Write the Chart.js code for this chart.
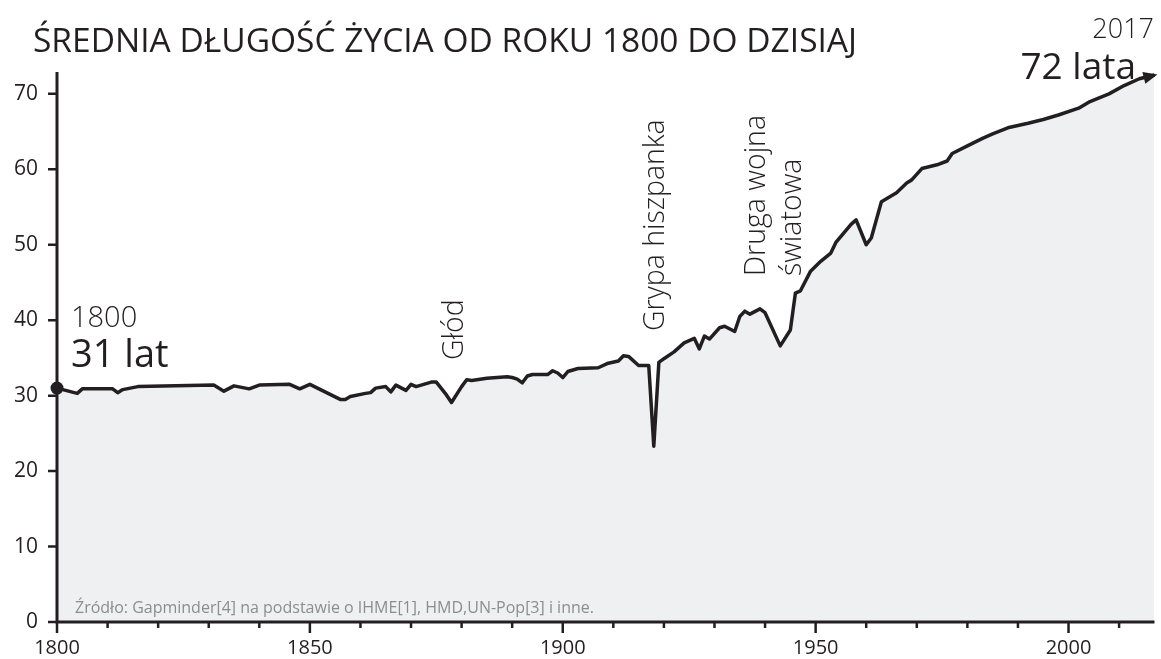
<!DOCTYPE html>
<html lang="pl">
<head>
<meta charset="utf-8">
<title>Średnia długość życia od roku 1800 do dzisiaj</title>
<script src="https://cdn.jsdelivr.net/npm/chart.js@4/dist/chart.umd.min.js"></script>
<style>
  html, body { margin: 0; padding: 0; background: #ffffff; }
  #wrap { width: 1161px; height: 659px; }
</style>
</head>
<body>
<div id="wrap"><canvas id="chartZycie" width="1161" height="659"></canvas></div>
<script>
// Dane (lata i długość życia w latach)
const lata = [
    1800, 1804, 1805, 1811, 1812, 1813, 1816, 1831, 1833, 1835, 1838, 1840,
    1846, 1848, 1850, 1853, 1856, 1857, 1858, 1861, 1862, 1863, 1865, 1866,
    1867, 1869, 1870, 1871, 1874, 1875, 1877, 1878, 1880, 1881, 1882, 1885,
    1889, 1890, 1891, 1892, 1893, 1894, 1897, 1898, 1899, 1900, 1901, 1903,
    1907, 1909, 1911, 1912, 1913, 1915, 1917, 1918, 1919, 1920, 1922, 1924,
    1926, 1927, 1928, 1929, 1931, 1932, 1934, 1935, 1936, 1937, 1939, 1940,
    1943, 1945, 1946, 1947, 1949, 1951, 1953, 1954, 1957, 1958, 1960, 1961,
    1963, 1966, 1968, 1969, 1971, 1974, 1976, 1977, 1980, 1983, 1985, 1988,
    1992, 1995, 1998, 2002, 2004, 2008, 2011, 2014, 2017
];
const dlugoscZycia = [
    31.0, 30.3, 30.9, 30.9, 30.4, 30.8, 31.2, 31.4, 30.6, 31.3, 30.9, 31.4,
    31.5, 30.9, 31.5, 30.5, 29.5, 29.5, 29.9, 30.3, 30.4, 31.0, 31.2, 30.5,
    31.4, 30.7, 31.5, 31.2, 31.8, 31.8, 30.1, 29.1, 31.2, 32.1, 32.0, 32.3,
    32.5, 32.4, 32.2, 31.7, 32.6, 32.8, 32.8, 33.3, 33.0, 32.4, 33.2, 33.6,
    33.7, 34.3, 34.6, 35.3, 35.2, 34.0, 34.0, 23.3, 34.4, 34.9, 35.8, 37.0,
    37.6, 36.2, 37.9, 37.5, 39.0, 39.2, 38.5, 40.5, 41.2, 40.8, 41.5, 41.0,
    36.6, 38.7, 43.6, 43.9, 46.5, 47.8, 48.9, 50.3, 52.7, 53.3, 50.0, 50.9,
    55.7, 56.9, 58.2, 58.6, 60.1, 60.6, 61.1, 62.1, 63.1, 64.1, 64.7, 65.5,
    66.1, 66.6, 67.2, 68.1, 68.9, 70.0, 71.1, 72.0, 72.5
];
const etykietyX = [1800, 1850, 1900, 1950, 2000];
const wartosciY = [0, 10, 20, 30, 40, 50, 60, 70];

const KOLOR = '#231f20';
const FONT = '"Open Sans", "Noto Sans", sans-serif';

// Osie, kreski podziałki, strzałka i napisy
const opisyPlugin = {
    id: 'opisy',
    afterDatasetsDraw(chart) {
        const { ctx, chartArea, scales: { x, y } } = chart;
        ctx.save();
        ctx.strokeStyle = KOLOR;
        ctx.fillStyle = KOLOR;

        // oś Y i oś X
        ctx.lineWidth = 3;
        ctx.beginPath();
        ctx.moveTo(chartArea.left, chartArea.top - 3);
        ctx.lineTo(chartArea.left, chartArea.bottom + 1.5);
        ctx.moveTo(chartArea.left - 1.5, chartArea.bottom);
        ctx.lineTo(chartArea.right, chartArea.bottom);
        ctx.stroke();

        // kreski podziałki
        ctx.lineWidth = 2.5;
        ctx.beginPath();
        x.ticks.forEach(t => {
            const px = x.getPixelForValue(t.value);
            const len = etykietyX.includes(t.value) ? 11 : 6;
            ctx.moveTo(px, chartArea.bottom);
            ctx.lineTo(px, chartArea.bottom + len);
        });
        y.ticks.forEach(t => {
            const py = y.getPixelForValue(t.value);
            ctx.moveTo(chartArea.left - 9, py);
            ctx.lineTo(chartArea.left, py);
        });
        ctx.stroke();

        // strzałka na końcu linii
        const pts = chart.getDatasetMeta(0).data;
        const a = pts[pts.length - 1];
        const b = pts[pts.length - 2];
        const ang = Math.atan2(a.y - b.y, a.x - b.x);
        ctx.translate(a.x + 1, a.y);
        ctx.rotate(ang);
        ctx.beginPath();
        ctx.moveTo(2, 0);
        ctx.lineTo(-12, -6);
        ctx.lineTo(-12, 6);
        ctx.closePath();
        ctx.fill();
        ctx.restore();
    },
    afterDraw(chart) {
        const ctx = chart.ctx;
        ctx.save();
        ctx.fillStyle = KOLOR;
        ctx.textBaseline = 'alphabetic';

        ctx.font = '400 33.5px ' + FONT;
        ctx.fillText('ŚREDNIA DŁUGOŚĆ ŻYCIA OD ROKU 1800 DO DZISIAJ', 33, 52);

        ctx.font = '300 29px ' + FONT;
        ctx.fillText('1800', 71, 327);
        ctx.font = '400 38px ' + FONT;
        ctx.fillText('31 lat', 71, 367);

        ctx.textAlign = 'right';
        ctx.font = '300 27px ' + FONT;
        ctx.fillText('2017', 1154, 38);
        ctx.font = '400 37px ' + FONT;
        ctx.fillText('72 lata', 1136, 79);

        // napisy pionowe
        ctx.textAlign = 'left';
        ctx.font = '300 28.5px ' + FONT;
        const pionowe = [
            ['Głód', 463, 360],
            ['Grypa hiszpanka', 664, 331],
            ['Druga wojna', 765, 276],
            ['światowa', 801, 276]
        ];
        pionowe.forEach(([s, px, py]) => {
            ctx.save();
            ctx.translate(px, py);
            ctx.rotate(-Math.PI / 2);
            ctx.fillText(s, 0, 0);
            ctx.restore();
        });

        ctx.fillStyle = '#8d8d8d';
        ctx.font = '400 16px ' + FONT;
        ctx.fillText('Źródło: Gapminder[4] na podstawie o IHME[1], HMD,UN-Pop[3] i inne.', 75, 613);
        ctx.restore();
    }
};

const ctx = document.getElementById('chartZycie');
new Chart(ctx, {
    type: 'line',
    data: {
        datasets: [{
            data: lata.map((r, i) => ({ x: r, y: dlugoscZycia[i] })),
            borderColor: KOLOR,
            borderWidth: 3.5,
            borderJoinStyle: 'round',
            backgroundColor: '#eff0f2',
            fill: 'origin',
            tension: 0,
            clip: false,
            pointRadius: c => c.dataIndex === 0 ? 6.5 : 0,
            pointBackgroundColor: KOLOR,
            pointBorderWidth: 0
        }]
    },
    options: {
        responsive: false,
        animation: false,
        layout: { padding: { top: 75, right: 0, left: 0, bottom: 0 } },
        plugins: {
            legend: { display: false },
            tooltip: { enabled: false }
        },
        scales: {
            x: {
                type: 'linear',
                min: 1800,
                max: 2017,
                afterFit: s => { s.height = 37; },
                grid: { display: false, drawTicks: false },
                border: { display: false },
                ticks: {
                    stepSize: 10,
                    includeBounds: false,
                    autoSkip: false,
                    maxRotation: 0,
                    padding: 14,
                    color: KOLOR,
                    font: { family: FONT, size: 20 },
                    callback: v => etykietyX.includes(v) ? String(v) : ''
                }
            },
            y: {
                min: 0,
                max: 72.5,
                afterFit: s => { s.width = 57; },
                afterBuildTicks: s => { s.ticks = wartosciY.map(v => ({ value: v })); },
                grid: { display: false, drawTicks: false },
                border: { display: false },
                ticks: {
                    padding: 19,
                    color: KOLOR,
                    font: { family: FONT, size: 21 }
                }
            }
        }
    },
    plugins: [opisyPlugin]
});
</script>
</body>
</html>
